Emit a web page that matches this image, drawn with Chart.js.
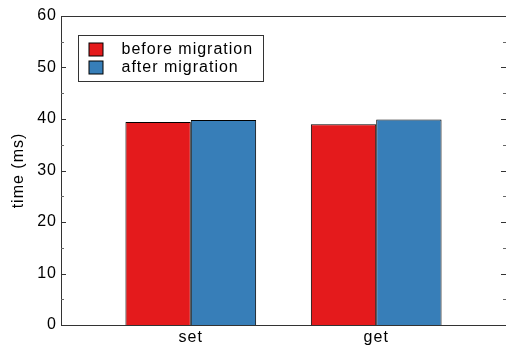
<!DOCTYPE html>
<html>
<head>
<meta charset="utf-8">
<script src="https://cdn.jsdelivr.net/npm/chart.js@4/dist/chart.umd.min.js"></script>
<style>
html,body{margin:0;padding:0;background:#fff;}
#wrap{width:506px;height:345px;}
</style>
</head>
<body>
<div id="wrap"><canvas id="c" width="506" height="345"></canvas></div>
<script>
const categories = ['set', 'get'];
const categoryPositions = [1, 2];
const seriesNames = ['before migration', 'after migration'];
const beforeValues = [39.4, 39.0];
const afterValues = [39.8, 39.9];
const yTickValues = [0, 10, 20, 30, 40, 50, 60];
const yMinorTickValues = [5, 15, 25, 35, 45, 55];

const FONT = "'Liberation Sans', Arial, Helvetica, sans-serif";
const AXIS_COLOR = '#333333';

const spacingPlugin = {
  id: 'spacing',
  beforeUpdate(chart) { chart.ctx.letterSpacing = '1px'; },
  beforeLayout(chart) { chart.ctx.letterSpacing = '1px'; },
  beforeDraw(chart) { chart.ctx.letterSpacing = '1px'; }
};

const framePlugin = {
  id: 'frame',
  afterDraw(chart) {
    const ctx = chart.ctx;
    const a = chart.chartArea;
    const y = chart.scales.y;
    ctx.save();
    ctx.strokeStyle = AXIS_COLOR;
    ctx.lineWidth = 1;
    ctx.beginPath();
    ctx.moveTo(a.left, a.top + 0.5);
    ctx.lineTo(a.right, a.top + 0.5);
    ctx.stroke();
    const drawTick = (v, len) => {
      const p = Math.round(y.getPixelForValue(v)) + 0.5;
      ctx.beginPath();
      ctx.moveTo(a.left, p); ctx.lineTo(a.left + len, p);
      ctx.moveTo(a.right, p); ctx.lineTo(a.right - len, p);
      ctx.stroke();
    };
    yTickValues.forEach(v => drawTick(v, 5));
    ctx.strokeStyle = '#666666';
    yMinorTickValues.forEach(v => drawTick(v, 3));
    ctx.restore();
  }
};

const boxLegendPlugin = {
  id: 'boxLegend',
  afterDraw(chart) {
    const ctx = chart.ctx;
    const a = chart.chartArea;
    const x0 = a.left + 17.5, y0 = a.top + 19.5, w = 185, h = 46;
    ctx.save();
    ctx.fillStyle = '#ffffff';
    ctx.fillRect(x0, y0, w, h);
    ctx.strokeStyle = '#333333';
    ctx.lineWidth = 1;
    ctx.strokeRect(x0, y0, w, h);
    ctx.font = '16px ' + FONT;
    ctx.letterSpacing = '1px';
    ctx.textBaseline = 'middle';
    chart.data.datasets.forEach((ds, i) => {
      const cy = y0 + 14 + i * 18;
      ctx.fillStyle = ds.backgroundColor;
      ctx.fillRect(x0 + 10.5, cy - 6.5, 14, 13);
      ctx.strokeStyle = '#000';
      ctx.strokeRect(x0 + 10.5, cy - 6.5, 14, 13);
      ctx.fillStyle = '#000';
      ctx.fillText(ds.label, x0 + 43, cy + 0.5);
    });
    ctx.restore();
  }
};

new Chart(document.getElementById('c'), {
  type: 'bar',
  data: {
    datasets: [
      {
        label: seriesNames[0],
        data: categoryPositions.map((x, i) => ({x: x, y: beforeValues[i]})),
        backgroundColor: '#e41a1c',
        borderColor: '#000000',
        borderWidth: 1
      },
      {
        label: seriesNames[1],
        data: categoryPositions.map((x, i) => ({x: x, y: afterValues[i]})),
        backgroundColor: '#377eb8',
        borderColor: '#000000',
        borderWidth: 1
      }
    ]
  },
  options: {
    responsive: false,
    animation: false,
    events: [],
    categoryPercentage: 0.705,
    barPercentage: 1.0,
    layout: {padding: {top: 16, right: 0, left: 0, bottom: 0}},
    plugins: {legend: {display: false}, tooltip: {enabled: false}},
    scales: {
      x: {
        type: 'linear',
        offset: false,
        min: 0.3,
        max: 2.7,
        afterBuildTicks(scale) {
          scale.ticks = categoryPositions.map(v => ({value: v}));
        },
        afterFit(scale) { scale.height = 20; },
        grid: {display: false, drawTicks: false},
        border: {display: true, color: AXIS_COLOR, width: 1},
        ticks: {
          padding: 3,
          color: '#000',
          font: {family: FONT, size: 16},
          maxRotation: 0,
          callback(v) {
            const i = categoryPositions.indexOf(v);
            return i >= 0 ? categories[i] : '';
          }
        }
      },
      y: {
        min: 0,
        max: 60,
        afterBuildTicks(scale) {
          scale.ticks = yTickValues.map(v => ({value: v}));
        },
        afterFit(scale) { scale.width = 61; },
        grid: {display: false, drawTicks: false},
        border: {display: true, color: AXIS_COLOR, width: 1},
        ticks: {
          padding: 4,
          color: '#000',
          font: {family: FONT, size: 16}
        },
        title: {
          display: true,
          text: 'time (ms)',
          color: '#000',
          font: {family: FONT, size: 16},
          padding: {top: 9, bottom: 0}
        }
      }
    }
  },
  plugins: [spacingPlugin, framePlugin, boxLegendPlugin]
});
</script>
</body>
</html>
